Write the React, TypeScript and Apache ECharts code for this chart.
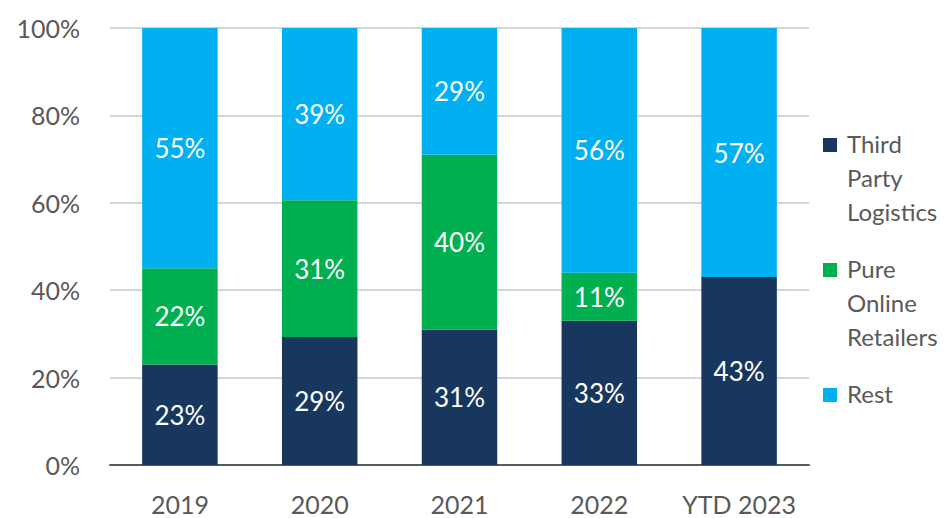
import React, { useEffect, useRef } from "react";
import * as echarts from "echarts";

const categories = ["2019", "2020", "2021", "2022", "YTD 2023"];
const thirdPartyLogistics = [23, 29, 31, 33, 43];
const pureOnlineRetailers = [22, 31, 40, 11, 0];
const rest = [55, 39, 29, 56, 57];
const yTicks = [0, 20, 40, 60, 80, 100];

const seriesDefs = [
  { name: "Third Party Logistics", lines: ["Third", "Party", "Logistics"], data: thirdPartyLogistics, color: "#17375E" },
  { name: "Pure Online Retailers", lines: ["Pure", "Online", "Retailers"], data: pureOnlineRetailers, color: "#00B050" },
  { name: "Rest", lines: ["Rest"], data: rest, color: "#00B0F0" },
];

const FONT = "Lato, 'Open Sans', sans-serif";

export default function App() {
  const ref = useRef<HTMLDivElement>(null);
  useEffect(() => {
    if (!ref.current) return;
    const chart = echarts.init(ref.current, undefined, { renderer: "svg" });
    const totals = categories.map((_, i) =>
      seriesDefs.reduce((s, d) => s + d.data[i], 0)
    );
    const legendGraphics = seriesDefs.map((d, k) => ({
      type: "group",
      x: 823,
      y: 138 + k * 125,
      children: [
        { type: "rect", shape: { x: 0, y: 0, width: 14, height: 14 }, style: { fill: d.color } },
        {
          type: "text",
          x: 24,
          y: -12,
          style: {
            text: d.lines.join("\n"),
            fontSize: 24,
            fontFamily: FONT,
            fill: "#595959",
            lineHeight: 34,
            verticalAlign: "top",
          },
        },
      ],
    }));
    chart.setOption({
      animation: false,
      grid: { left: 110, right: 139, top: 28, bottom: 53 },
      xAxis: {
        type: "category",
        data: categories,
        axisTick: { show: false },
        axisLine: { lineStyle: { color: "#595959", width: 2 } },
        axisLabel: {
          color: "#595959",
          fontSize: 25,
          lineHeight: 26,
          fontFamily: FONT,
          margin: 26,
          interval: 0,
          hideOverlap: false,
        },
      },
      yAxis: {
        type: "value",
        min: 0,
        max: 100,
        interval: 20,
        axisLine: { show: false },
        axisTick: { show: false },
        splitLine: { lineStyle: { color: "#D0D7DA", width: 2 } },
        axisLabel: {
          color: "#595959",
          fontSize: 25,
          fontFamily: FONT,
          margin: 30,
          formatter: (v: number) => (yTicks.includes(v) ? v + "%" : ""),
        },
      },
      graphic: legendGraphics,
      series: seriesDefs.map((d) => ({
        name: d.name,
        type: "bar",
        stack: "total",
        barWidth: "54%",
        itemStyle: { color: d.color },
        data: d.data.map((v, i) => (v / totals[i]) * 100),
        label: {
          show: true,
          position: "inside",
          color: "#FFFFFF",
          fontSize: 26,
          fontFamily: FONT,
          formatter: (p: any) => {
            const raw = d.data[p.dataIndex];
            return raw > 0 ? raw + "%" : "";
          },
        },
      })),
    });
    return () => chart.dispose();
  }, []);
  return (
    <div
      ref={ref}
      style={{ position: "fixed", left: 0, top: 0, width: 948, height: 518, background: "#fff" }}
    />
  );
}
